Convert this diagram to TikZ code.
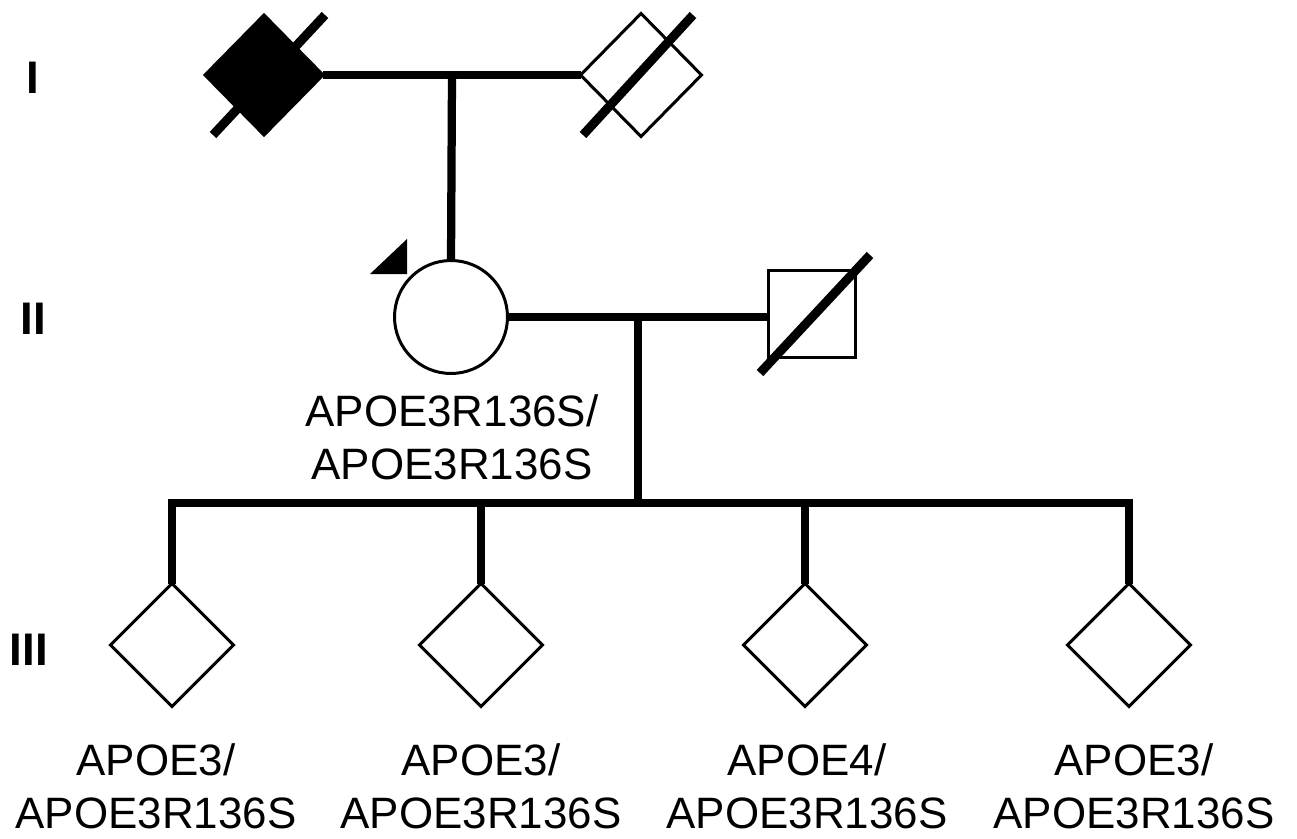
\documentclass[tikz,border=0pt]{standalone}
\usepackage{fontspec}
\setmainfont{Liberation Sans}
\usetikzlibrary{shapes.geometric,calc}
\begin{document}
\begin{tikzpicture}[x=0.02cm,y=-0.02cm,
  every node/.style={inner sep=0pt, outer sep=0pt},
  indiv/.style={draw=black, line width=0.06cm, fill=white},
  dmd/.style={indiv, diamond, aspect=1, minimum width=2.46cm, minimum height=2.46cm},
  link/.style={line width=0.165cm, line join=miter},
  slash/.style={line width=0.18cm},
  gen/.style={font=\fontsize{26}{30}\selectfont\bfseries, anchor=base},
  geno/.style={font=\fontsize{25}{30}\selectfont, align=center, anchor=north}]

\useasboundingbox (0,0) rectangle (1297,838);

% generation labels
\node[gen] (gI) at (33,93) {I};
\node[gen] (gII) at (33,334) {II};
\node[gen] (gIII) at (29,665) {III};

% individuals
\node[dmd, fill=black, minimum width=2.36cm, minimum height=2.4cm] (I1) at (264,75) {};
\node[dmd, minimum width=2.42cm, minimum height=2.46cm] (I2) at (641,75) {};
\node[indiv, circle, minimum size=2.26cm] (II1) at (451,317) {};
\node[indiv, rectangle, minimum size=1.74cm] (II2) at (812,314) {};
\node[dmd] (III1) at (172,645) {};
\node[dmd] (III2) at (481,645) {};
\node[dmd] (III3) at (805,645) {};
\node[dmd] (III4) at (1129,645) {};

% connectors
\coordinate (m1) at (452,75);
\coordinate (m2) at (638,317);
\coordinate (sib) at (638,503);
\draw[link] (I1.east) -- (I2.west);
\draw[link] (m1) -- (II1.north);
\draw[link] (II1.east) -- (II1.east -| II2.west);
\draw[link] (m2) -- (sib);
\draw[link] (III1.north) -- (III1.north |- sib) -- (III4.north |- sib) -- (III4.north);
\draw[link] (III2.north |- sib) -- (III2.north);
\draw[link] (III3.north |- sib) -- (III3.north);

% deceased slashes
\draw[slash] ($(I1)+(-51,60)$) -- ($(I1)+(61,-60)$);
\draw[slash] ($(I2)+(-58,60)$) -- ($(I2)+(52,-60)$);
\draw[slash] ($(II2)+(-52,59)$) -- ($(II2)+(58,-59)$);

% proband arrow
\fill ($(II1)+(-81,-43)$) -- ($(II1)+(-44,-43)$) -- ($(II1)+(-44,-78)$) -- cycle;

% genotypes
\node[geno] (g0) at (452,395) {APOE3R136S/\\APOE3R136S};
\node[geno] (g1) at (156,744) {APOE3/\\APOE3R136S};
\node[geno] (g2) at (481,744) {APOE3/\\APOE3R136S};
\node[geno] (g3) at (807,744) {APOE4/\\APOE3R136S};
\node[geno] (g4) at (1134,744) {APOE3/\\APOE3R136S};
\end{tikzpicture}
\end{document}
